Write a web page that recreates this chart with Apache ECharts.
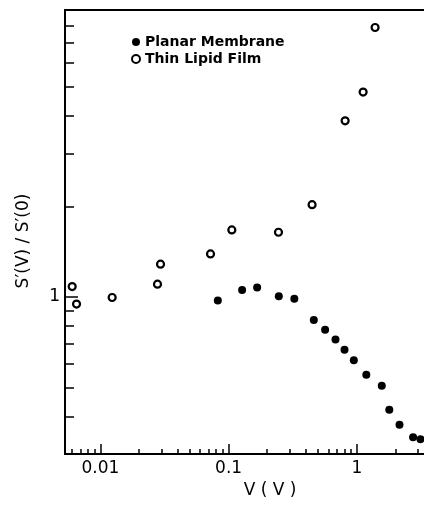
<!DOCTYPE html>
<html>
<head>
<meta charset="utf-8">
<script src="https://cdn.jsdelivr.net/npm/echarts@6/dist/echarts.min.js"></script>
<style>
  html, body { margin: 0; padding: 0; background: #fff; }
  #chart { width: 424px; height: 506px; }
</style>
</head>
<body>
<div id="chart"></div>
<script>
// Planar Membrane (filled dots)
const planarV = [0.0824, 0.1275, 0.167, 0.2465, 0.3257, 0.462, 0.566, 0.682, 0.802, 0.948, 1.186, 1.566, 1.792, 2.153, 2.748, 3.139]
const planarS = [0.973, 1.053, 1.074, 1.004, 0.985, 0.837, 0.777, 0.721, 0.667, 0.615, 0.551, 0.506, 0.421, 0.375, 0.341, 0.336]

// Thin Lipid Film (open circles)
const filmV = [0.00603, 0.00652, 0.01236, 0.0279, 0.02946, 0.0723, 0.106, 0.245, 0.448, 0.811, 1.12, 1.389]
const filmS = [1.082, 0.946, 0.995, 1.102, 1.284, 1.389, 1.669, 1.64, 2.026, 3.852, 4.8, 7.87]

// axes (log scale)
const xRange = [0.0053, 4]
const yRange = [0.3, 9]
const xMajor = [0.01, 0.1, 1]
const xMajorText = ['0.01', '0.1', '1']
const xMinor = [0.006, 0.007, 0.008, 0.009, 0.02, 0.03, 0.04, 0.05, 0.06, 0.07, 0.08, 0.09,
  0.2, 0.3, 0.4, 0.5, 0.6, 0.7, 0.8, 0.9, 2, 3]
const yMajor = [1]
const yMajorText = ['1']
const yMinor = [0.4, 0.5, 0.6, 0.7, 0.8, 0.9, 2, 3, 4, 5, 6, 7, 8]

const lg = v => Math.log10(v)
const font = 'DejaVu Sans'

const chart = echarts.init(document.getElementById('chart'))

const tickStyle = { color: '#000', width: 1.5 }
const lineStyle = { color: '#000', width: 2 }

// log-value axis with its line on; each axis switches on what else it needs
// (ticks are not drawn when the axis line is hidden, so overlays keep the line too)
const baseAxis = (range, extra) => Object.assign({
  type: 'value',
  min: lg(range[0]),
  max: lg(range[1]),
  splitLine: { show: false },
  axisLabel: { show: false },
  axisTick: { show: false },
  axisLine: { show: true, onZero: false, lineStyle: lineStyle }
}, extra)

chart.setOption({
  animation: false,
  backgroundColor: '#fff',
  grid: { left: 65, top: 10, width: 369, height: 444, outerBoundsMode: 'none', containLabel: false },
  legend: {
    orient: 'vertical',
    left: 131,
    top: 34,
    padding: 0,
    itemWidth: 8,
    itemHeight: 8,
    itemGap: 1,
    itemTextGap: 6,
    textStyle: { fontFamily: font, fontSize: 14, fontWeight: 'bold', color: '#000', lineHeight: 16 },
    data: ['Planar Membrane', 'Thin Lipid Film']
  },
  xAxis: [
    baseAxis(xRange, {
      position: 'bottom',
      axisTick: { show: true, inside: true, length: 5, customValues: xMinor.map(lg), lineStyle: tickStyle },
      axisLabel: {
        show: true, margin: 6, customValues: xMajor.map(lg),
        fontFamily: font, fontSize: 17, color: '#000',
        formatter: v => xMajorText[xMajor.findIndex(m => Math.abs(lg(m) - v) < 1e-6)] || ''
      },
      name: 'V ( V )',
      nameLocation: 'middle',
      nameGap: 26,
      nameTextStyle: { fontFamily: font, fontSize: 17, color: '#000', padding: [0, 0, 0, 41] }
    }),
    baseAxis(xRange, {
      position: 'bottom',
      axisTick: { show: true, inside: true, length: 10, customValues: xMajor.map(lg), lineStyle: tickStyle }
    }),
    baseAxis(xRange, { position: 'top' })
  ],
  yAxis: [
    baseAxis(yRange, {
      position: 'left',
      axisTick: { show: true, inside: true, length: 9, customValues: yMinor.map(lg), lineStyle: tickStyle },
      axisLabel: {
        show: true, margin: 5, customValues: yMajor.map(lg),
        fontFamily: font, fontSize: 17, color: '#000',
        formatter: v => yMajorText[yMajor.findIndex(m => Math.abs(lg(m) - v) < 1e-6)] || ''
      },
      name: 'S\u2032(V) / S\u2032(0)',
      nameLocation: 'middle',
      nameGap: 33,
      nameTextStyle: { fontFamily: font, fontSize: 17, color: '#000', padding: [0, 18, 0, 0] }
    }),
    baseAxis(yRange, {
      position: 'left',
      axisTick: { show: true, inside: true, length: 13, customValues: yMajor.map(lg), lineStyle: tickStyle }
    })
  ],
  series: [
    {
      name: 'Planar Membrane',
      type: 'scatter',
      symbol: 'circle',
      symbolSize: 8,
      itemStyle: { color: '#000', opacity: 1 },
      data: planarV.map((v, i) => [lg(v), lg(planarS[i])])
    },
    {
      name: 'Thin Lipid Film',
      type: 'scatter',
      symbol: 'circle',
      symbolSize: 7,
      itemStyle: { color: '#fff', borderColor: '#000', borderWidth: 2.2, opacity: 1 },
      data: filmV.map((v, i) => [lg(v), lg(filmS[i])])
    }
  ]
})
</script>
</body>
</html>
